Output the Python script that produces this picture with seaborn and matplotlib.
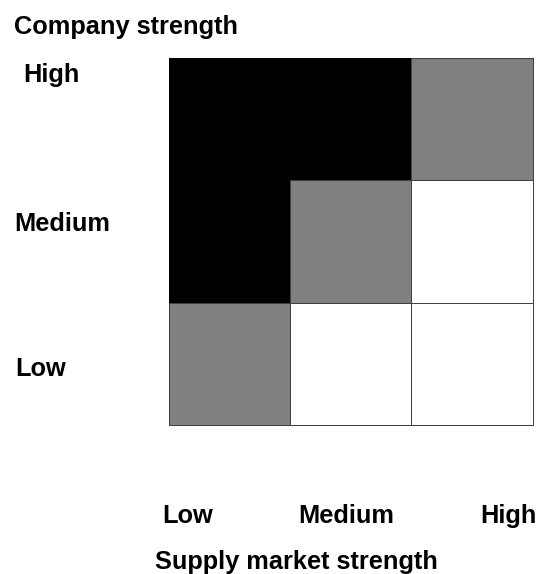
import numpy as np
import pandas as pd
import seaborn as sns
import matplotlib.pyplot as plt
from matplotlib.colors import ListedColormap

sns.set_style("white")
plt.rcParams["font.family"] = ["Liberation Sans", "DejaVu Sans"]

# Company strength (rows, top to bottom) vs supply market strength (columns)
company_levels = ["High", "Medium", "Low"]
supply_levels = ["Low", "Medium", "High"]
# 0 = white, 1 = grey, 2 = black
high_row = [2, 2, 1]
medium_row = [2, 1, 0]
low_row = [1, 0, 0]

grid = pd.DataFrame([high_row, medium_row, low_row],
                    index=company_levels, columns=supply_levels)

W, H = 537, 574
fig = plt.figure(figsize=(W / 100, H / 100), dpi=100)
ax = fig.add_axes([169 / W, 1 - 425 / H, (532.5 - 169) / W, (425 - 58) / H])

fills = ["#ffffff", "#808080", "#000000"]
cmap = ListedColormap(fills)
sns.heatmap(grid, ax=ax, cmap=cmap, vmin=-0.5, vmax=2.5, cbar=False,
            linewidths=0.7, linecolor="#404040",
            xticklabels=False, yticklabels=False, square=False)
ax.set_xlabel("")
ax.set_ylabel("")

# black cells keep black outlines so neighbouring black cells merge
mesh = ax.collections[0]
edge_for = {0: "#404040", 1: "#404040", 2: "#000000"}
mesh.set_edgecolors([edge_for[v] for v in grid.values.ravel()])
mesh.set_clip_on(False)

fs = 18.3
txt = dict(fontsize=fs, fontweight="bold", color="black", ha="left", va="baseline")

def px(x, y):
    return x / W, 1 - y / H

fig.text(*px(14, 34), "Company strength", **txt)
for label, (x, y) in zip(company_levels, [(23, 82), (14, 231), (15, 376)]):
    fig.text(*px(x, y), label, **txt)
for label, (x, y) in zip(supply_levels, [(162, 523), (298, 523), (480, 523)]):
    fig.text(*px(x, y), label, **txt)
fig.text(*px(155, 569), "Supply market strength", **txt)

fig.savefig("out.png", dpi=100, facecolor="white")
